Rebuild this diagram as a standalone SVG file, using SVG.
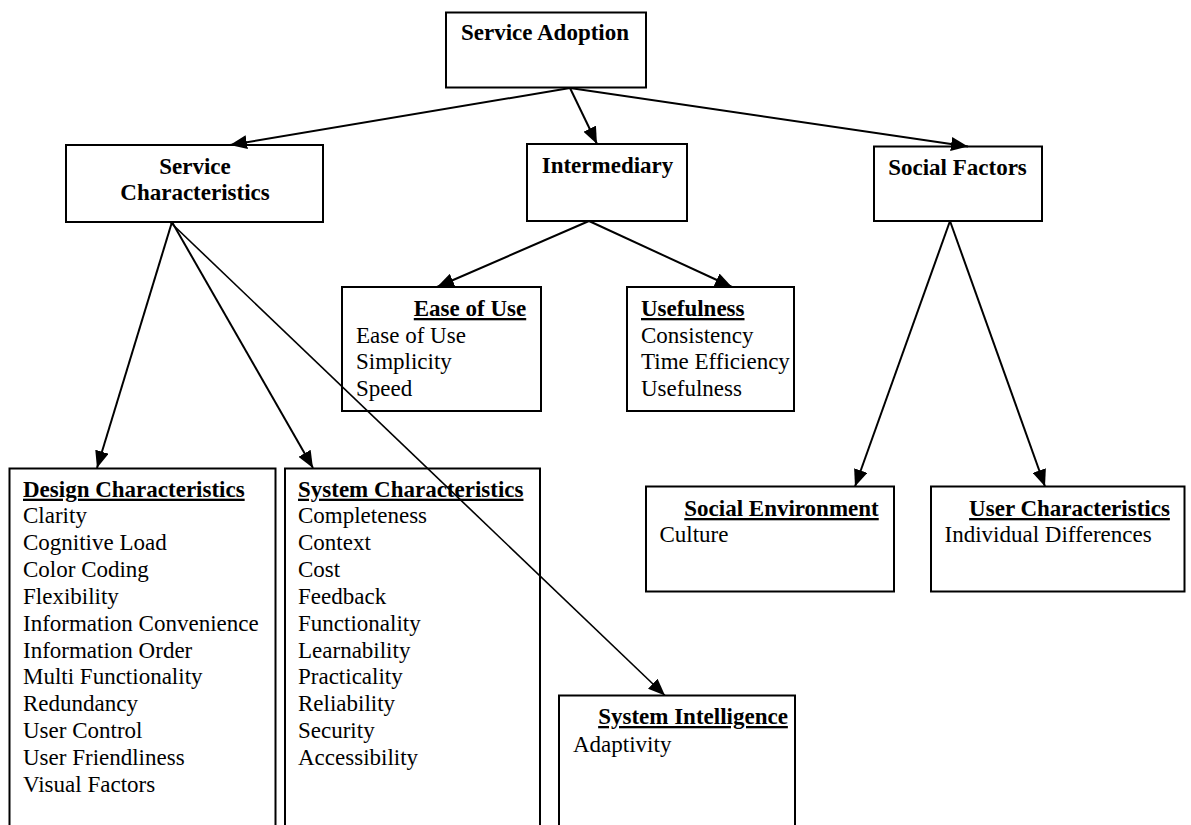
<svg xmlns="http://www.w3.org/2000/svg" width="1191" height="825" viewBox="0 0 1191 825">
<style>
.box{fill:#fff;stroke:#000;stroke-width:2}
.t{font-family:"Liberation Serif","Times New Roman",serif;font-size:23px;fill:#000}
.b{font-weight:bold}
.u{font-weight:bold;text-decoration:underline}
.m{text-anchor:middle}
.c{stroke:#000;stroke-width:2;fill:none;marker-end:url(#ah)}
.thin{stroke-width:1.6}
</style>
<defs>
<marker id="ah" markerUnits="userSpaceOnUse" markerWidth="18" markerHeight="14" refX="17" refY="7" orient="auto">
<path d="M0,0 L17,7 L0,14 z" fill="#000"/>
</marker>
</defs>
<rect width="1191" height="825" fill="#fff"/>
<g id="service-adoption">
<rect class="box" x="446" y="12.5" width="200" height="75"/>
<text class="t b m" x="545" y="40">Service Adoption</text>
</g>
<g id="service-characteristics">
<rect class="box" x="66" y="145" width="257" height="77"/>
<text class="t b m" x="195" y="174">Service</text>
<text class="t b m" x="195" y="200">Characteristics</text>
</g>
<g id="intermediary">
<rect class="box" x="527" y="144" width="160" height="77"/>
<text class="t b m" x="607.5" y="173">Intermediary</text>
</g>
<g id="social-factors">
<rect class="box" x="874" y="146.5" width="168" height="74.5"/>
<text class="t b m" x="957.5" y="175">Social Factors</text>
</g>
<g id="ease-of-use">
<rect class="box" x="342" y="287" width="199" height="124"/>
<text class="t u m" x="470" y="316">Ease of Use</text>
<text class="t" x="356" y="342.7">Ease of Use</text>
<text class="t" x="356" y="369.3">Simplicity</text>
<text class="t" x="356" y="396">Speed</text>
</g>
<g id="usefulness">
<rect class="box" x="627" y="287" width="167" height="124"/>
<text class="t u" x="641" y="316">Usefulness</text>
<text class="t" x="641" y="342.7">Consistency</text>
<text class="t" x="641" y="369.3">Time Efficiency</text>
<text class="t" x="641" y="396">Usefulness</text>
</g>
<g id="design-characteristics">
<rect class="box" x="9.5" y="468.5" width="266" height="380"/>
<text class="t u" x="23" y="496.7">Design Characteristics</text>
<text class="t" x="23" y="523.3">Clarity</text>
<text class="t" x="23" y="550.1">Cognitive Load</text>
<text class="t" x="23" y="577">Color Coding</text>
<text class="t" x="23" y="603.8">Flexibility</text>
<text class="t" x="23" y="630.7">Information Convenience</text>
<text class="t" x="23" y="657.5">Information Order</text>
<text class="t" x="23" y="684.3">Multi Functionality</text>
<text class="t" x="23" y="711.2">Redundancy</text>
<text class="t" x="23" y="738">User Control</text>
<text class="t" x="23" y="764.9">User Friendliness</text>
<text class="t" x="23" y="791.7">Visual Factors</text>
</g>
<g id="system-characteristics">
<rect class="box" x="285" y="468.5" width="255" height="380"/>
<text class="t u" x="298" y="496.7">System Characteristics</text>
<text class="t" x="298" y="523.3">Completeness</text>
<text class="t" x="298" y="550.1">Context</text>
<text class="t" x="298" y="577">Cost</text>
<text class="t" x="298" y="603.8">Feedback</text>
<text class="t" x="298" y="630.7">Functionality</text>
<text class="t" x="298" y="657.5">Learnability</text>
<text class="t" x="298" y="684.3">Practicality</text>
<text class="t" x="298" y="711.2">Reliability</text>
<text class="t" x="298" y="738">Security</text>
<text class="t" x="298" y="764.9">Accessibility</text>
</g>
<g id="system-intelligence">
<rect class="box" x="559" y="695.5" width="236" height="160"/>
<text class="t u m" x="693" y="724">System Intelligence</text>
<text class="t" x="573" y="751.7">Adaptivity</text>
</g>
<g id="social-environment">
<rect class="box" x="646" y="486.5" width="248" height="105"/>
<text class="t u m" x="781.5" y="516">Social Environment</text>
<text class="t" x="659.5" y="541.7">Culture</text>
</g>
<g id="user-characteristics">
<rect class="box" x="931" y="486.5" width="253.5" height="105"/>
<text class="t u m" x="1069.5" y="516">User Characteristics</text>
<text class="t" x="944.5" y="541.7">Individual Differences</text>
</g>
<g id="connectors">
<line class="c" x1="570" y1="88" x2="230" y2="145"/>
<line class="c" x1="570" y1="88" x2="597" y2="144"/>
<line class="c" x1="570" y1="88" x2="968" y2="146.5"/>
<line class="c" x1="172" y1="222" x2="97" y2="468"/>
<line class="c" x1="172" y1="222" x2="313" y2="468"/>
<line class="c thin" x1="170" y1="222" x2="665" y2="695.5"/>
<line class="c" x1="589" y1="221" x2="437" y2="287"/>
<line class="c" x1="589" y1="221" x2="732" y2="287"/>
<line class="c" x1="950" y1="221" x2="855" y2="486.5"/>
<line class="c" x1="950" y1="221" x2="1045" y2="486.5"/>
</g>
</svg>
